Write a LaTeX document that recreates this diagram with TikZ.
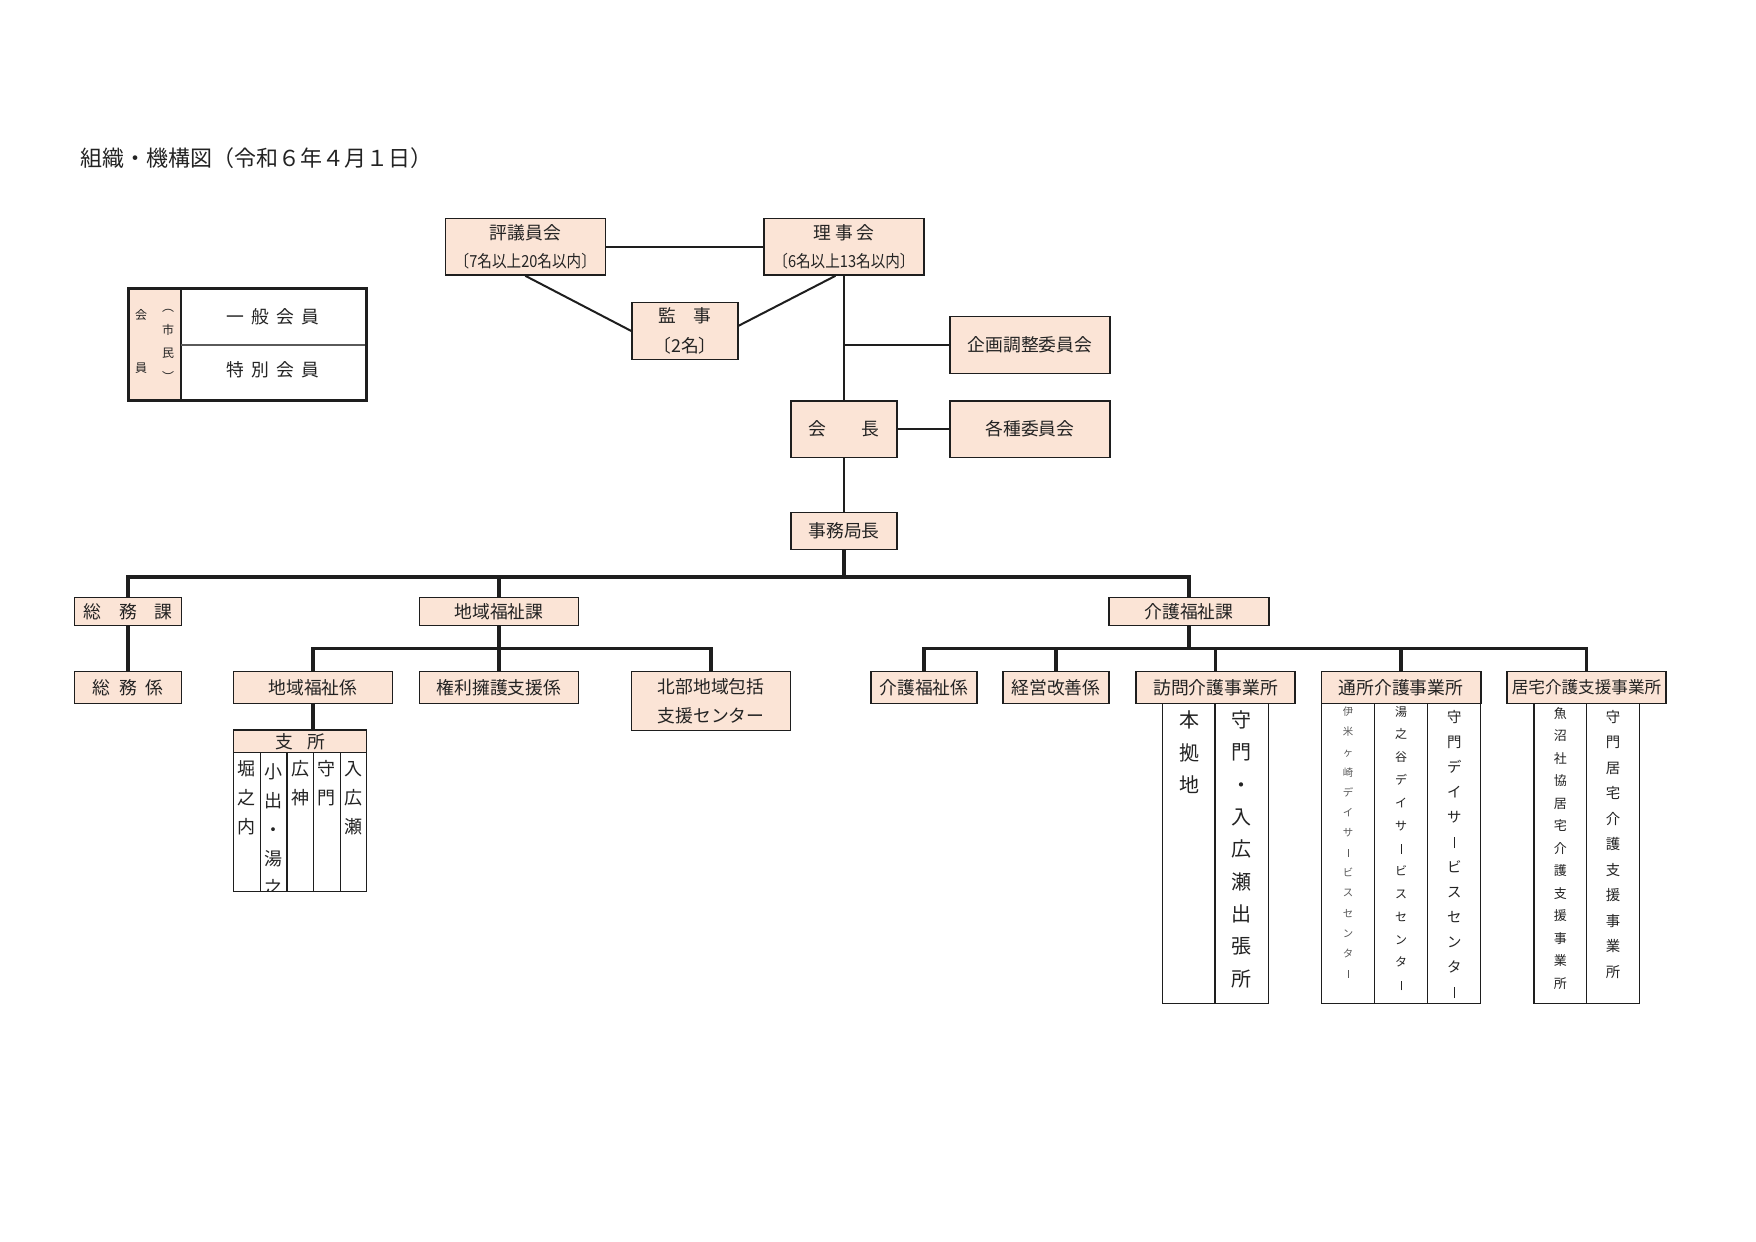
\documentclass[tikz,border=0pt]{standalone}
\usepackage{fontspec}
\setmainfont{Noto Sans CJK JP}
\newfontfamily\narrowfont[FakeStretch=0.88]{Noto Sans CJK JP}
\definecolor{peach}{RGB}{251,228,214}
\definecolor{linec}{RGB}{30,30,30}
\definecolor{txt}{RGB}{35,35,35}
\definecolor{grayline}{RGB}{90,90,90}
\newcommand\fs[2]{\fontsize{#1}{#2}\selectfont}
\newcommand\vbarmark{\rule[-0.05em]{0.07em}{0.8em}}
\newcommand\gapA{\hspace{0.4em}}
\begin{document}
\begin{tikzpicture}[x=0.5pt,y=-0.5pt,
  box/.style={draw=linec, fill=peach, line width=0.7pt, inner sep=0pt, text=txt,
    font=\fs{8.9pt}{10pt}, align=center},
  conn/.style={draw=linec, line width=1pt},
  bus/.style={draw=linec, line width=1.65pt, line join=miter},
  tbl/.style={draw=linec, line width=0.65pt},
  vtext/.style={inner sep=0pt, text=txt, align=center},
  plain/.style={inner sep=0pt, text=txt}]
\fill[white] (0,0) rectangle (1756,1242);
\useasboundingbox (0,0) rectangle (1756,1242);

% title
\node[plain, anchor=west, font=\fs{11pt}{12pt}] (title) at (80,158) {組織・機構図（令和６年４月１日）};

% members box
\fill[peach] (130,290) rectangle (181,399);
\draw[linec, line width=0.65pt] (181,289) -- (181,400);
\draw[grayline, line width=0.65pt] (181,345) -- (366,345);
\draw[linec, line width=1.65pt] (128.6,288.6) rectangle (366.4,400.4);
\node[plain, font=\fs{8.9pt}{10pt}] (ippan) at (273,317) {一\gapA 般\gapA 会\gapA 員};
\node[plain, font=\fs{8.9pt}{10pt}] (tokubetsu) at (273,370) {特\gapA 別\gapA 会\gapA 員};
\node[plain, font=\fs{6pt}{7pt}] (kaiA) at (141,315) {会};
\node[plain, font=\fs{6pt}{7pt}] (kaiB) at (141,368) {員};
\node[vtext, font=\fs{6pt}{11.67pt}] (shimin) at (168,345) {︵\\市\\民\\︶};

% upper boxes
\node[box, minimum width=80pt, minimum height=28.4pt, font=\fs{8.9pt}{14.15pt}] (hyogi) at (525.3,246.7)
  {評議員会\\{\narrowfont\fs{8.3pt}{14.15pt}〔7名以上20名以内〕}};
\node[box, minimum width=80pt, minimum height=28.4pt, font=\fs{8.9pt}{14.15pt}] (riji) at (844,246.7)
  {理 事 会\\{\narrowfont\fs{8.3pt}{14.15pt}〔6名以上13名以内〕}};
\node[box, minimum width=53pt, minimum height=28.3pt, font=\fs{8.9pt}{15.3pt}] (kanji) at (685,331)
  {監　事\\〔2名〕};
\node[box, minimum width=80pt, minimum height=28.3pt] (kikaku) at (1030,345) {企画調整委員会};
\node[box, minimum width=53pt, minimum height=28.2pt] (kaicho) at (844,429) {会　　長};
\node[box, minimum width=80pt, minimum height=28.2pt] (kakushu) at (1030,429) {各種委員会};
\node[box, minimum width=53pt, minimum height=18.3pt] (jimu) at (844,531) {事務局長};

% sections
\node[box, minimum width=53.25pt, minimum height=14pt] (somuka) at (128,611.7) {総　務　課};
\node[box, minimum width=53.25pt, minimum height=15.8pt] (somugakari) at (128,687.5) {総\hspace{0.5em}務\hspace{0.5em}係};
\node[box, minimum width=79.5pt, minimum height=14pt] (chiikika) at (499,611.7) {地域福祉課};
\node[box, minimum width=79.75pt, minimum height=15.8pt] (chiikigakari) at (313,687.5) {地域福祉係};
\node[box, minimum width=79.5pt, minimum height=15.8pt] (kenri) at (499,687.5) {権利擁護支援係};
\node[box, minimum width=79.25pt, minimum height=29.3pt, font=\fs{8.9pt}{14.65pt}] (hokubu) at (711,701) {北部地域包括\\支援センター};
\node[box, minimum width=80pt, minimum height=14pt] (kaigoka) at (1189,611.5) {介護福祉課};
\node[box, minimum width=53pt, minimum height=15.8pt] (kaigogakari) at (924,687.5) {介護福祉係};
\node[box, minimum width=53pt, minimum height=15.8pt] (keiei) at (1056,687.5) {経営改善係};
\node[box, minimum width=79.5pt, minimum height=15.8pt] (houmon) at (1215.5,687.5) {訪問介護事業所};
\node[box, minimum width=79.8pt, minimum height=15.8pt] (tsusho) at (1401,687.5) {通所介護事業所};
\node[box, minimum width=79.6pt, minimum height=15.8pt, font=\fs{8.3pt}{10pt}] (kyotaku) at (1586.5,687.5) {居宅介護支援事業所};
\node[box, minimum width=66.5pt, minimum height=11.35pt] (shisho) at (300,741.3) {支\hspace{0.8em}所};

% connectors (upper)
\draw[conn] (hyogi.east) -- (riji.west);
\draw[conn] (hyogi.south) -- (kanji.west);
\draw[conn] ([xshift=-4.25pt]riji.south) -- ([yshift=2.65pt]kanji.east);
\draw[conn] (riji.south) -- (kaicho.north);
\draw[conn] (riji.south |- kikaku.west) -- (kikaku.west);
\draw[conn] (kaicho.east) -- (kakushu.west);
\draw[conn] (kaicho.south) -- (jimu.north);

% buses
\coordinate (busA) at (844,577);
\coordinate (busB) at (499,648.3);
\coordinate (busC) at (1189,648.3);
\draw[bus] (jimu.south) -- (busA);
\draw[bus] (somuka.north) -- (somuka.north |- busA) -- (kaigoka.north |- busA) -- (kaigoka.north);
\draw[bus] (chiikika.north) -- (chiikika.north |- busA);
\draw[bus] (somuka.south) -- (somugakari.north);
\draw[bus] (chiikika.south) -- (busB);
\draw[bus] (chiikigakari.north) -- (chiikigakari.north |- busB) -- (hokubu.north |- busB) -- (hokubu.north);
\draw[bus] (kenri.north) -- (kenri.north |- busB);
\draw[bus] (chiikigakari.south) -- (chiikigakari.south |- shisho.north);
\draw[bus] (kaigoka.south) -- (busC);
\draw[bus] (kaigogakari.north) -- (kaigogakari.north |- busC) -- (kyotaku.north |- busC) -- (kyotaku.north);
\draw[bus] (keiei.north) -- (keiei.north |- busC);
\draw[bus] (houmon.north) -- (houmon.north |- busC);
\draw[bus] (tsusho.north) -- (tsusho.north |- busC);

% branch offices table
\draw[tbl] (233.5,752.7) rectangle (366.5,891.7);
\foreach \xx in {260.2,286.9,313.5,340.2} \draw[tbl] (\xx,752.7) -- (\xx,891.7);
\node[vtext, font=\fs{9pt}{14.5pt}] (brA) at (246.9,798) {堀\\之\\内};
\begin{scope}
\clip (260.2,753) rectangle (286.9,891);
\node[vtext, font=\fs{9pt}{14.5pt}] (brB) at (273.5,830) {小\\出\\・\\湯\\之};
\end{scope}
\node[vtext, font=\fs{9pt}{14.5pt}] (brC) at (300.2,783) {広\\神};
\node[vtext, font=\fs{9pt}{14.5pt}] (brD) at (326.9,783) {守\\門};
\node[vtext, font=\fs{9pt}{14.5pt}] (brE) at (353.3,798) {入\\広\\瀬};

% houmon table
\draw[tbl] (1162.7,703.3) rectangle (1268.3,1003.3);
\draw[tbl] (1215,703.3) -- (1215,1003.3);
\node[vtext, font=\fs{10pt}{16.25pt}] (hmA) at (1189,752.5) {本\\拠\\地};
\node[vtext, font=\fs{10pt}{16.15pt}] (hmB) at (1241.7,849.2) {守\\門\\・\\入\\広\\瀬\\出\\張\\所};

% tsusho table
\draw[tbl] (1321.2,703.3) rectangle (1480.8,1003.3);
\draw[tbl] (1374.2,703.3) -- (1374.2,1003.3);
\draw[tbl] (1427.7,703.3) -- (1427.7,1003.3);
\node[vtext, font=\fs{5.2pt}{10.06pt}, text=grayline] (tsA) at (1348,842.5)
  {伊\\米\\ヶ\\崎\\デ\\イ\\サ\\\vbarmark\\ビ\\ス\\セ\\ン\\タ\\\vbarmark};
\node[vtext, font=\fs{6pt}{11.4pt}] (tsB) at (1401,848.3)
  {湯\\之\\谷\\デ\\イ\\サ\\\vbarmark\\ビ\\ス\\セ\\ン\\タ\\\vbarmark};
\node[vtext, font=\fs{7.2pt}{12.5pt}] (tsC) at (1454.2,854.2)
  {守\\門\\デ\\イ\\サ\\\vbarmark\\ビ\\ス\\セ\\ン\\タ\\\vbarmark};

% kyotaku table
\draw[tbl] (1534,703.3) rectangle (1639.3,1003.3);
\draw[tbl] (1586.7,703.3) -- (1586.7,1003.3);
\node[vtext, font=\fs{6.5pt}{11.25pt}] (kyA) at (1560.3,848.3)
  {魚\\沼\\社\\協\\居\\宅\\介\\護\\支\\援\\事\\業\\所};
\node[vtext, font=\fs{7.2pt}{12.75pt}] (kyB) at (1613,844.2)
  {守\\門\\居\\宅\\介\\護\\支\\援\\事\\業\\所};
\end{tikzpicture}
\end{document}
